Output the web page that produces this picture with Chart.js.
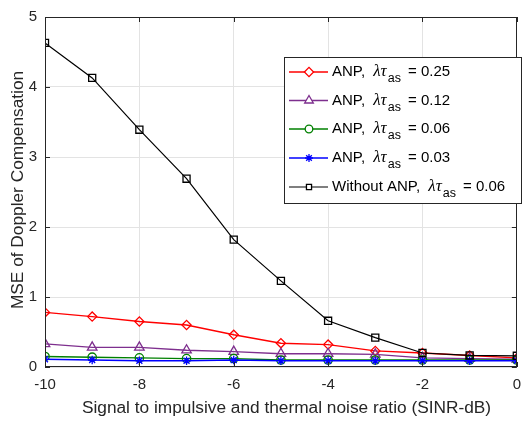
<!DOCTYPE html>
<html>
<head>
<meta charset="utf-8">
<script src="https://cdn.jsdelivr.net/npm/chart.js@4.4.1/dist/chart.umd.min.js"></script>
<style>
  html, body { margin: 0; padding: 0; background: #fff; }
  #wrap { width: 530px; height: 422px; position: relative; }
</style>
</head>
<body>
<div id="wrap"><canvas id="chart" width="530" height="422"></canvas></div>
<script>
// values
const snr = [-10, -9, -8, -7, -6, -5, -4, -3, -2, -1, 0];
const anp025 = [0.78, 0.72, 0.65, 0.60, 0.46, 0.34, 0.32, 0.23, 0.20, 0.165, 0.13];
const anp012 = [0.33, 0.28, 0.28, 0.24, 0.22, 0.19, 0.19, 0.18, 0.13, 0.12, 0.11];
const anp006 = [0.15, 0.14, 0.13, 0.12, 0.12, 0.10, 0.10, 0.10, 0.10, 0.10, 0.10];
const anp003 = [0.11, 0.10, 0.09, 0.09, 0.10, 0.09, 0.09, 0.09, 0.09, 0.09, 0.09];
const noAnp = [4.63, 4.13, 3.39, 2.69, 1.82, 1.23, 0.66, 0.42, 0.20, 0.165, 0.16];

const xTicks = [-10, -8, -6, -4, -2, 0];
const yTicks = [0, 1, 2, 3, 4, 5];

const xTitle = "Signal to impulsive and thermal noise ratio (SINR-dB)";
const yTitle = "MSE of Doppler Compensation";

const series = [
  { pre: "ANP, ", post: " = 0.25", data: anp025, color: "#ff0000", style: "rectRot", r: 4.6, lr: 4.6, order: 4, w: 1.4 },
  { pre: "ANP, ", post: " = 0.12", data: anp012, color: "#7e2f8e", style: "triangle", r: 5.5, lr: 5, order: 3, w: 1.4 },
  { pre: "ANP, ", post: " = 0.06", data: anp006, color: "#008000", style: "circle", r: 4.2, lr: 3.8, order: 2, w: 1.4 },
  { pre: "ANP, ", post: " = 0.03", data: anp003, color: "#0000ff", style: "star", r: 4.2, lr: 4, order: 1, w: 1.4 },
  { pre: "Without ANP, ", post: " = 0.06", data: noAnp, color: "#000000", style: "rect", r: 5, lr: 3.6, order: 0, w: 1.2 }
];

const axisColor = "#262626";
const sans = "'Liberation Sans', Arial, sans-serif";

const decor = {
  id: "decor",
  afterDraw(chart) {
    const ctx = chart.ctx;
    const a = chart.chartArea;
    const xs = chart.scales.x, ys = chart.scales.y;
    ctx.save();
    ctx.strokeStyle = axisColor;
    ctx.lineWidth = 1;
    // box
    ctx.strokeRect(Math.round(a.left) + 0.5, Math.round(a.top) + 0.5,
      Math.round(a.right - a.left) - 1, Math.round(a.bottom - a.top) - 1);
    // inward ticks
    ctx.beginPath();
    xTicks.forEach(v => {
      const px = Math.round(xs.getPixelForValue(v)) + 0.5;
      ctx.moveTo(px, a.bottom); ctx.lineTo(px, a.bottom - 5);
      ctx.moveTo(px, a.top); ctx.lineTo(px, a.top + 5);
    });
    yTicks.forEach(v => {
      const py = Math.round(ys.getPixelForValue(v)) + 0.5;
      ctx.moveTo(a.left, py); ctx.lineTo(a.left + 5, py);
      ctx.moveTo(a.right, py); ctx.lineTo(a.right - 5, py);
    });
    ctx.stroke();

    // axis titles
    ctx.fillStyle = axisColor;
    ctx.font = "17.3px " + sans;
    ctx.textAlign = "center";
    ctx.textBaseline = "middle";
    ctx.fillText(xTitle, 286.5, 408);
    ctx.save();
    ctx.translate(18, 190);
    ctx.rotate(-Math.PI / 2);
    ctx.fillText(yTitle, 0, 0);
    ctx.restore();

    // legend
    const lx = 284, ly = 57, lw = 237, lh = 146;
    ctx.fillStyle = "#fff";
    ctx.fillRect(lx, ly, lw, lh);
    ctx.strokeStyle = axisColor;
    ctx.strokeRect(lx + 0.5, ly + 0.5, lw, lh);
    const rows = [72, 100.5, 129, 158, 187];
    series.forEach((s, i) => {
      const y = rows[i];
      ctx.strokeStyle = s.color;
      ctx.lineWidth = s.w;
      ctx.beginPath();
      ctx.moveTo(289, y); ctx.lineTo(328, y);
      ctx.stroke();
      ctx.fillStyle = "#fff";
      ctx.lineWidth = 1.3;
      Chart.helpers.drawPoint(ctx, { pointStyle: s.style, radius: s.lr, borderWidth: 1.3 }, 309, y);
      ctx.fillStyle = "#000";
      ctx.textAlign = "left";
      ctx.textBaseline = "middle";
      let x = 332;
      ctx.font = "15px " + sans;
      ctx.fillText(s.pre, x, y);
      x += ctx.measureText(s.pre).width + 4;
      ctx.font = "italic 17px 'Liberation Serif', 'DejaVu Serif', serif";
      ctx.fillText("\u03bb\u03c4", x, y);
      x += ctx.measureText("\u03bb\u03c4").width + 1;
      ctx.font = "12.5px " + sans;
      ctx.fillText("as", x, y + 7);
      x += ctx.measureText("as").width + 3;
      ctx.font = "15px " + sans;
      ctx.fillText(s.post, x, y);
    });
    ctx.restore();
  }
};

new Chart(document.getElementById("chart"), {
  type: "line",
  data: {
    datasets: series.map(s => ({
      data: snr.map((x, i) => ({ x: x, y: s.data[i] })),
      borderColor: s.color,
      backgroundColor: "rgba(0,0,0,0)",
      borderWidth: s.w,
      pointStyle: s.style,
      pointRadius: s.r,
      pointBorderWidth: 1.3,
      pointBorderColor: s.color,
      pointBackgroundColor: "rgba(0,0,0,0)",
      tension: 0,
      order: s.order
    }))
  },
  options: {
    responsive: false,
    animation: false,
    events: [],
    layout: { padding: { top: 12, right: 3, left: 0, bottom: 0 } },
    plugins: { legend: { display: false }, tooltip: { enabled: false } },
    scales: {
      x: {
        type: "linear", min: -10, max: 0,
        afterBuildTicks: sc => { sc.ticks = xTicks.map(v => ({ value: v })); },
        afterFit: sc => { sc.height = 55; },
        grid: { color: "#e3e3e3", drawTicks: false },
        border: { display: false },
        ticks: { color: axisColor, font: { family: sans, size: 15 }, padding: 9 }
      },
      y: {
        type: "linear", min: 0, max: 5,
        afterBuildTicks: sc => { sc.ticks = yTicks.map(v => ({ value: v })); },
        afterFit: sc => { sc.width = 45; },
        grid: { color: "#e3e3e3", drawTicks: false },
        border: { display: false },
        ticks: { color: axisColor, font: { family: sans, size: 15 }, padding: 8 }
      }
    }
  },
  plugins: [decor]
});
</script>
</body>
</html>
